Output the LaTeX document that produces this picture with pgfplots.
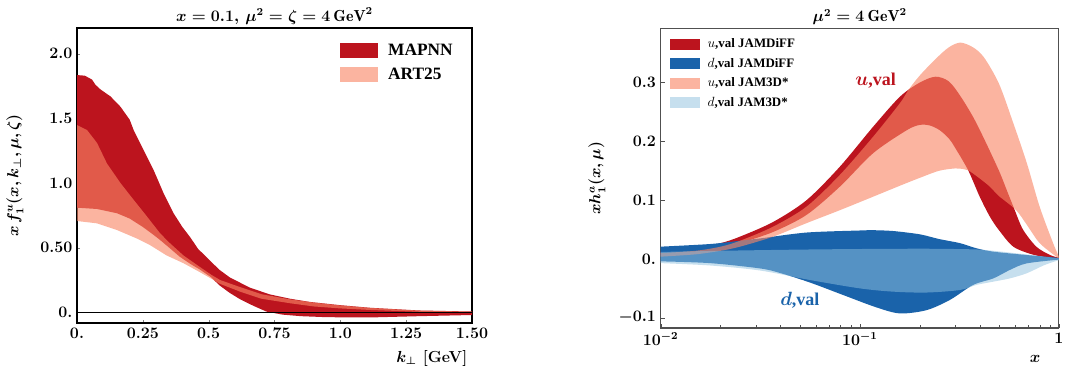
\documentclass[border=0pt]{standalone}
\usepackage{fontspec}
\usepackage{pgfplots}
\pgfplotsset{compat=1.18}
\usepgfplotslibrary{fillbetween}
\newfontfamily\timesb{Liberation Serif}
\definecolor{dred}{RGB}{188,20,30}
\definecolor{salC}{RGB}{248,134,102}
\definecolor{salL}{RGB}{251,180,160}
\definecolor{dblue}{RGB}{26,99,170}
\definecolor{lbC}{RGB}{143,192,222}
\definecolor{lbL}{RGB}{198,223,238}
\definecolor{axgray}{RGB}{80,80,80}
\pgfplotsset{every axis title/.style={at={(0.5,1)}, anchor=base, yshift=5pt,
  font=\fontsize{12}{14}\selectfont\bfseries\boldmath}}
\begin{document}
\begin{tikzpicture}
% ---------------- left panel ----------------
\begin{axis}[
  at={(57.75pt,35.25pt)}, anchor=south west, scale only axis,
  width=296.25pt, height=221.25pt,
  xmin=0, xmax=1.5, ymin=-0.0828, ymax=2.199,
  xtick={0,0.25,0.5,0.75,1,1.25,1.5},
  xticklabels={0.,0.25,0.5,0.75,1.0,1.25,1.50},
  ytick={0,0.5,1,1.5,2},
  yticklabels={0.,0.50,1.0,1.5,2.0},
  tick align=inside, tick pos=left, major tick length=2.5pt,
  tick label style={font=\fontsize{12}{14}\selectfont\bfseries\boldmath},
  axis line style={black, line width=0.8pt},
  title={$x=0.1,\,\mu^2=\zeta=4\,\mathrm{GeV}^2$},
  ylabel={$x\,f_1^u(x,k_\perp,\mu,\zeta)$},
  ylabel style={font=\fontsize{12}{14}\selectfont\bfseries\boldmath, at={(axis description cs:-0.124,0.5)}, anchor=south},
  xlabel={$k_\perp$ [GeV]},
  xlabel style={font=\fontsize{12}{14}\selectfont\bfseries\boldmath, at={(axis description cs:1,0)}, anchor=north east, yshift=-17pt},
  legend style={at={(axis description cs:0.655,0.965)}, anchor=north west, draw=none, fill=none,
    font=\fontsize{13}{15}\selectfont\timesb\bfseries, row sep=4pt,
    /tikz/every odd column/.append style={column sep=6pt}},
  legend cell align=left,
]
\addplot[name path=mu, draw=none, forget plot] table {
x y
0 1.835
0.03 1.83
0.057 1.80
0.07 1.76
0.089 1.724
0.127 1.67
0.165 1.59
0.2 1.49
0.215 1.41
0.253 1.255
0.291 1.10
0.329 0.92
0.367 0.765
0.40 0.66
0.43 0.58
0.46 0.49
0.505 0.40
0.54 0.33
0.58 0.27
0.657 0.19
0.733 0.138
0.809 0.105
0.885 0.08
1.0 0.055
1.113 0.035
1.3 0.014
1.5 0.006
};
\addplot[name path=ml, draw=none, forget plot] table {
x y
0 0.809
0.076 0.799
0.152 0.766
0.2 0.725
0.25 0.66
0.29 0.60
0.315 0.56
0.35 0.50
0.39 0.43
0.43 0.375
0.467 0.33
0.51 0.27
0.54 0.21
0.58 0.15
0.62 0.10
0.67 0.05
0.72 0.005
0.78 -0.018
0.85 -0.03
0.95 -0.038
1.113 -0.04
1.3 -0.03
1.5 -0.021
};
\addplot[name path=au, draw=none, forget plot] table {
x y
0 1.448
0.038 1.41
0.076 1.31
0.114 1.15
0.165 1.0
0.215 0.87
0.266 0.74
0.316 0.61
0.35 0.54
0.404 0.44
0.467 0.35
0.51 0.29
0.543 0.25
0.619 0.195
0.7 0.14
0.809 0.10
0.9 0.075
1.0 0.053
1.113 0.034
1.3 0.013
1.5 0.005
};
\addplot[name path=al, draw=none, forget plot] table {
x y
0 0.706
0.076 0.688
0.152 0.636
0.228 0.57
0.277 0.52
0.34 0.44
0.404 0.38
0.467 0.31
0.51 0.26
0.543 0.22
0.619 0.16
0.7 0.105
0.809 0.07
0.9 0.045
1.0 0.03
1.113 0.018
1.3 0.004
1.5 0.0
};
\addplot[fill=dred, draw=none, forget plot] fill between[of=mu and ml];
\addplot[fill=salC, fill opacity=0.62, draw=none, forget plot] fill between[of=au and al];
\addplot[black, line width=0.6pt, forget plot] coordinates {(0,0) (1.5,0)};
\addlegendimage{legend image code/.code={\fill[dred] (0pt,-5.25pt) rectangle (27.75pt,5.25pt);}}
\addlegendentry{MAPNN}
\addlegendimage{legend image code/.code={\fill[salL] (0pt,-5.25pt) rectangle (27.75pt,5.25pt);}}
\addlegendentry{ART25}
\end{axis}
% ---------------- right panel ----------------
\begin{axis}[
  at={(495.5pt,31.5pt)}, anchor=south west, scale only axis,
  width=298.7pt, height=224.5pt,
  xmode=log, xmin=0.01, xmax=1, ymin=-0.1173, ymax=0.3917,
  xtick={0.01,0.1,1},
  xticklabels={$10^{-2}$,$10^{-1}$,$1$},
  minor xtick={0.02,0.03,0.04,0.05,0.06,0.07,0.08,0.09,0.2,0.3,0.4,0.5,0.6,0.7,0.8,0.9},
  ytick={-0.1,0,0.1,0.2,0.3},
  yticklabels={$-0.1$,0.,0.1,0.2,0.3},
  tick align=inside, tick pos=left, major tick length=3pt, minor tick length=2pt,
  tick style={axgray},
  tick label style={font=\fontsize{12}{14}\selectfont\bfseries\boldmath},
  axis line style={axgray, line width=0.8pt},
  title={$\mu^2=4\,\mathrm{GeV}^2$},
  ylabel={$x h_1^a(x,\mu)$},
  ylabel style={font=\fontsize{12}{14}\selectfont\bfseries\boldmath, at={(axis description cs:-0.127,0.5)}, anchor=south},
  xlabel={$x$},
  xlabel style={font=\fontsize{12}{14}\selectfont\bfseries\boldmath, at={(axis description cs:0.965,0)}, anchor=north east, yshift=-17pt},
  legend style={at={(axis description cs:0.012,0.985)}, anchor=north west, draw=none, fill=none,
    font=\fontsize{9.7}{11}\selectfont\timesb\bfseries, row sep=2.2pt,
    /tikz/every odd column/.append style={column sep=4pt}},
  legend cell align=left,
]
% u JAMDiFF
\addplot[name path=uDu, draw=none, smooth, forget plot] table {
x y
0.01 0.013
0.015 0.019
0.02 0.027
0.025 0.038
0.0367 0.063
0.054 0.100
0.0794 0.157
0.1167 0.225
0.159 0.276
0.2 0.300
0.24 0.310
0.28 0.302
0.32 0.277
0.37 0.242
0.42 0.205
0.5 0.15
0.55 0.115
0.6 0.083
0.66 0.05
0.77 0.021
0.9 0.007
1.0 0.002
};
\addplot[name path=uDl, draw=none, smooth, forget plot] table {
x y
0.01 0.007
0.015 0.011
0.02 0.018
0.025 0.027
0.0367 0.046
0.054 0.075
0.0794 0.123
0.1167 0.18
0.172 0.219
0.2 0.228
0.225 0.227
0.252 0.219
0.28 0.205
0.3 0.19
0.35 0.151
0.4 0.106
0.45 0.072
0.5 0.049
0.59 0.021
0.74 0.0074
0.9 0.002
1.0 0.0
};
% d JAMDiFF
\addplot[name path=dDu, draw=none, smooth, forget plot] table {
x y
0.01 0.021
0.0177 0.0255
0.025 0.031
0.0315 0.035
0.054 0.045
0.1 0.0485
0.1167 0.049
0.147 0.0476
0.2 0.042
0.25 0.034
0.318 0.027
0.386 0.0182
0.468 0.0125
0.687 0.0068
1.0 0.002
};
\addplot[name path=dDl, draw=none, smooth, forget plot] table {
x y
0.01 -0.004
0.0177 -0.007
0.0315 -0.016
0.04 -0.024
0.0562 -0.040
0.0826 -0.0613
0.121 -0.0822
0.159 -0.0925
0.216 -0.087
0.283 -0.0697
0.371 -0.044
0.468 -0.033
0.566 -0.0187
0.687 -0.0075
1.0 -0.001
};
% u JAM3D
\addplot[name path=u3u, draw=none, smooth, forget plot] table {
x y
0.01 0.010
0.015 0.014
0.02 0.021
0.025 0.031
0.0367 0.055
0.054 0.089
0.0794 0.143
0.1167 0.208
0.159 0.265
0.175 0.287
0.2 0.312
0.24 0.340
0.28 0.360
0.32 0.368
0.37 0.36
0.42 0.343
0.5 0.298
0.59 0.231
0.69 0.163
0.8 0.089
0.935 0.027
1.0 0.004
};
\addplot[name path=u3l, draw=none, smooth, forget plot] table {
x y
0.01 0.004
0.015 0.008
0.02 0.014
0.025 0.021
0.0367 0.038
0.054 0.061
0.0794 0.083
0.1167 0.106
0.16 0.125
0.2 0.138
0.25 0.150
0.3 0.154
0.33 0.153
0.35 0.151
0.4 0.137
0.45 0.123
0.5 0.107
0.61 0.083
0.7 0.055
0.8 0.027
0.97 0.004
1.0 0.002
};
% d JAM3D
\addplot[name path=d3u, draw=none, smooth, forget plot] table {
x y
0.01 0.012
0.02 0.014
0.05 0.016
0.1 0.017
0.2 0.0175
0.3 0.017
0.4 0.016
0.5 0.013
0.6 0.010
0.7 0.0075
0.85 0.004
1.0 0.001
};
\addplot[name path=d3l, draw=none, smooth, forget plot] table {
x y
0.01 -0.007
0.0177 -0.011
0.0315 -0.0195
0.0562 -0.0357
0.1 -0.0499
0.147 -0.0555
0.216 -0.057
0.318 -0.0527
0.386 -0.044
0.468 -0.0385
0.566 -0.033
0.687 -0.0244
0.85 -0.010
1.0 -0.002
};
\addplot[fill=dred, draw=none, forget plot] fill between[of=uDu and uDl];
\addplot[fill=dblue, draw=none, forget plot] fill between[of=dDu and dDl];
\addplot[fill=salC, fill opacity=0.62, draw=none, forget plot] fill between[of=u3u and u3l];
\addplot[fill=lbC, fill opacity=0.51, draw=none, forget plot] fill between[of=d3u and d3l];
\node[text=dred, font=\fontsize{13.5}{15}\selectfont\timesb\bfseries\boldmath] at (axis cs:0.12,0.303) {$u$,val};
\node[text=dblue, font=\fontsize{13.5}{15}\selectfont\timesb\bfseries\boldmath] at (axis cs:0.05,-0.070) {$d$,val};
\addlegendimage{legend image code/.code={\fill[dred] (0pt,-3.75pt) rectangle (22pt,3.75pt);}}
\addlegendentry{$u$,val JAMDiFF}
\addlegendimage{legend image code/.code={\fill[dblue] (0pt,-3.75pt) rectangle (22pt,3.75pt);}}
\addlegendentry{$d$,val JAMDiFF}
\addlegendimage{legend image code/.code={\fill[salL] (0pt,-3.75pt) rectangle (22pt,3.75pt);}}
\addlegendentry{$u$,val JAM3D*}
\addlegendimage{legend image code/.code={\fill[lbL] (0pt,-3.75pt) rectangle (22pt,3.75pt);}}
\addlegendentry{$d$,val JAM3D*}
\end{axis}
\pgfresetboundingbox
\path[use as bounding box] (0,0) rectangle (799.5pt,277.5pt);
\end{tikzpicture}
\end{document}
